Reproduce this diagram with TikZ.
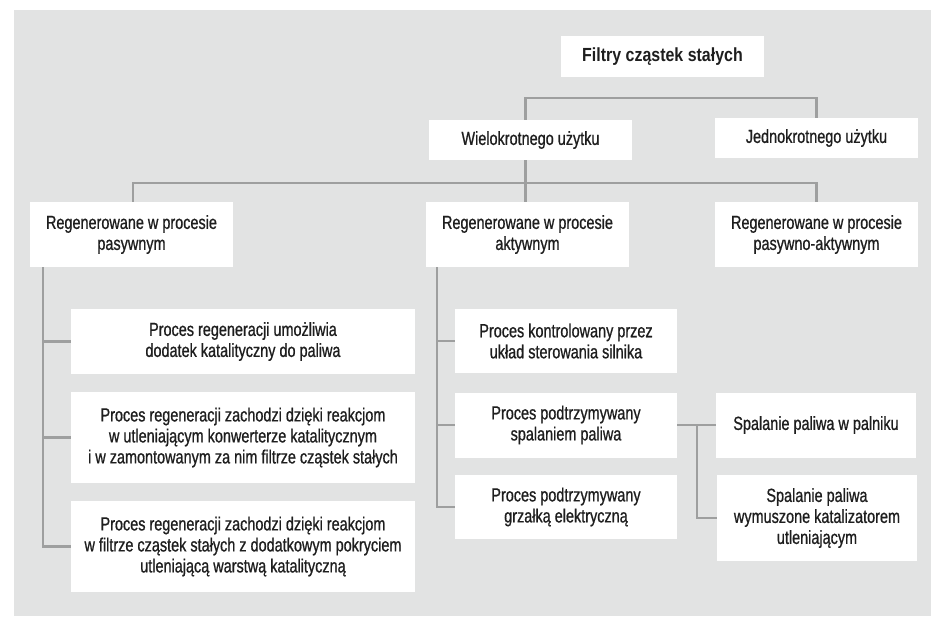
\documentclass[tikz,border=0pt]{standalone}
\usepackage{fontspec}
\setmainfont{Liberation Sans}[FakeStretch=0.76, FakeBold=0.8]
\newfontfamily\titlefont{Liberation Sans}[FakeStretch=0.84]
\definecolor{bggray}{RGB}{226,227,227}
\definecolor{linegray}{RGB}{158,159,159}
\definecolor{txt}{RGB}{30,30,30}
\begin{document}
\begin{tikzpicture}[x=1pt,y=-1pt,
  box/.style={fill=white, align=center, inner sep=0pt, text=txt,
    font=\fontsize{19}{21}\selectfont},
  conn/.style={draw=linegray, line width=2.6pt}]
\useasboundingbox (0,0) rectangle (931,616);
\fill[bggray] (14,10) rectangle (931,616);

\node[box, minimum width=203pt, minimum height=41pt, font=\titlefont\bfseries\fontsize{19}{21}\selectfont] (title) at (662.5,56.5) {Filtry cząstek stałych};
\node[box, minimum width=203pt, minimum height=40pt] (wiel) at (530.5,140) {Wielokrotnego użytku};
\node[box, minimum width=203pt, minimum height=40pt] (jedn) at (816.5,138) {Jednokrotnego użytku};

\node[box, minimum width=203pt, minimum height=65pt] (pas) at (131.5,234.5) {Regenerowane w procesie\\pasywnym};
\node[box, minimum width=203pt, minimum height=65pt] (akt) at (527.5,234.5) {Regenerowane w procesie\\aktywnym};
\node[box, minimum width=203pt, minimum height=65pt] (pa) at (816.5,234.5) {Regenerowane w procesie\\pasywno-aktywnym};

\node[box, minimum width=344pt, minimum height=65pt] (L1) at (243,341.5) {Proces regeneracji umożliwia\\dodatek katalityczny do paliwa};
\node[box, minimum width=344pt, minimum height=91pt] (L2) at (243,437.5) {Proces regeneracji zachodzi dzięki reakcjom\\w utleniającym konwerterze katalitycznym\\i w zamontowanym za nim filtrze cząstek stałych};
\node[box, minimum width=344pt, minimum height=91pt] (L3) at (243,546.5) {Proces regeneracji zachodzi dzięki reakcjom\\w filtrze cząstek stałych z dodatkowym pokryciem\\utleniającą warstwą katalityczną};

\node[box, minimum width=222pt, minimum height=64pt] (M1) at (566,341) {Proces kontrolowany przez\\układ sterowania silnika};
\node[box, minimum width=222pt, minimum height=65pt] (M2) at (566,425) {Proces podtrzymywany\\spalaniem paliwa};
\node[box, minimum width=222pt, minimum height=64pt] (M3) at (566,507) {Proces podtrzymywany\\grzałką elektryczną};

\node[box, minimum width=200pt, minimum height=65pt] (R1) at (816,425) {Spalanie paliwa w palniku};
\node[box, minimum width=200pt, minimum height=86pt] (R2) at (817,518) {Spalanie paliwa\\wymuszone katalizatorem\\utleniającym};

% level 1
\coordinate (t1) at (0,98);
\draw[conn] ([xshift=-5pt]wiel.north) |- (jedn.north |- t1) -- (jedn.north);
% level 2
\coordinate (t2) at (0,183);
\draw[conn] ([xshift=-5pt]wiel.south) -- ([xshift=-5pt]wiel.south |- akt.north);
\draw[conn] ([xshift=1.5pt]pas.north) |- (pa.north |- t2) -- (pa.north);
% left trunk
\coordinate (lt) at ([xshift=13pt]pas.south west);
\draw[conn] (lt) |- (L3.west);
\draw[conn] (lt |- L1.west) -- (L1.west);
\draw[conn] (lt |- L2.west) -- (L2.west);
% middle trunk
\coordinate (mt) at ([xshift=11pt]akt.south west);
\draw[conn] (mt) |- (M3.west);
\draw[conn] (mt |- M1.west) -- (M1.west);
\draw[conn] (mt |- M2.west) -- (M2.west);
% right branch
\coordinate (rt) at (697,0);
\draw[conn] (M2.east) -- (R1.west);
\draw[conn] (M2.east -| rt) |- (R2.west);
\end{tikzpicture}
\end{document}
